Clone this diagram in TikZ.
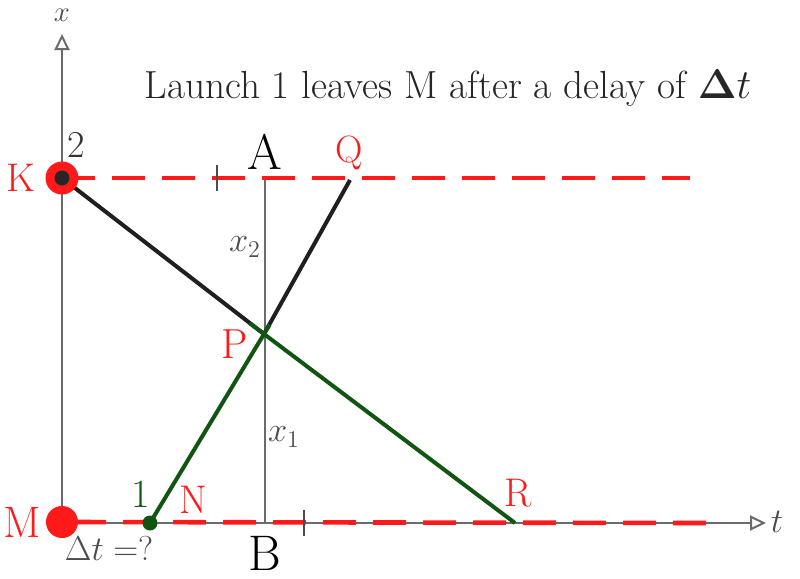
\documentclass[tikz,border=0pt]{standalone}
\usetikzlibrary{arrows.meta,calc}
\definecolor{dkgreen}{rgb}{0.07,0.33,0.07}
\definecolor{axgray}{rgb}{0.42,0.42,0.42}
\definecolor{ltred}{rgb}{1,0.1,0.1}
\begin{document}
\begin{tikzpicture}[x=0.5pt,y=-0.5pt,
  axis/.style={draw=axgray,line width=1pt},
  axarrow/.style={-{Triangle[open,length=8pt,width=7.5pt,line width=1pt]}},
  reddash/.style={draw=ltred,line width=2.3pt,dash pattern=on 16.5pt off 8.5pt},
  blk/.style={draw=black!88,line width=2pt},
  grn/.style={draw=dkgreen,line width=2pt},
  tickm/.style={draw=black!70,line width=1pt},
  fs/.style={font=\fontsize{#1}{#1}\selectfont},
  redlbl/.style={text=ltred,inner sep=0pt},
  graylbl/.style={text=black!70,inner sep=0pt},
  blklbl/.style={text=black,inner sep=0pt}]
\useasboundingbox (0,0) rectangle (800,579);
% coordinates
\coordinate (O) at (62,523);
\coordinate (Xtip) at (62,34);
\coordinate (Ttip) at (766,523);
\coordinate (K) at (62,178);
\coordinate (M) at (62,522);
\coordinate (A) at (265,178);
\coordinate (B) at (265,523);
\coordinate (P) at (264,334);
\coordinate (Q) at (350,180);
\coordinate (R) at (515,523);
\coordinate (N) at (150,523);
\coordinate (Kend) at (690,178);
\coordinate (Mend) at (706,523);
% axes
\draw[axis,axarrow] (O) -- (Xtip);
\draw[axis,axarrow] (O) -- (Ttip);
\draw[axis] (A) -- (B);
% dashed red lines
\draw[reddash] (K) -- (Kend);
\draw[reddash,dash phase=19.5pt] (M) -- (Mend);
% ticks
\coordinate (T1) at (217,178);
\coordinate (T2) at (304,523);
\draw[tickm] ($(T1)+(0,-13)$) -- ($(T1)+(0,13)$);
\draw[tickm] ($(T2)+(0,-13)$) -- ($(T2)+(0,13)$);
% world lines
\draw[blk] (K) -- (P);
\draw[blk] (P) -- (Q);
\draw[grn] ($(P)!-9pt!(R)$) -- (R);
\draw[grn] (N) -- ($(N)!1.05!(P)$);
% dots
\fill[ltred] (M) circle (16);
\fill[ltred] (K) circle (16.5);
\fill[black!85] (K) circle (7.5);
\fill[dkgreen] (N) circle (7.5);
% labels
\node[graylbl,fs=15] (xl) at (62,15) {$x$};
\node[graylbl,fs=19] (tl) at (777,522) {$t$};
\node[blklbl,fs=19.6,text=black!85] (title) at (448,88) {Launch 1 leaves M after a delay of $\mathbf{\Delta}t$};
\node[redlbl,fs=20] (Kl) at (21,178) {K};
\node[redlbl,fs=22] (Ml) at (22,522) {M};
\node[blklbl,fs=19,text=black!80] (two) at (76,145) {2};
\node[blklbl,fs=25] (Al) at (265,152) {A};
\node[blklbl,fs=25] (Bl) at (265,553) {B};
\node[redlbl,fs=19] (Ql) at (349,153) {Q};
\node[redlbl,fs=21] (Pl) at (235,344) {P};
\node[graylbl,fs=17] (x2) at (245,247) {$x_2$};
\node[graylbl,fs=17] (x1) at (284,437) {$x_1$};
\node[redlbl,fs=20] (Rl) at (518,493) {R};
\node[redlbl,fs=20] (Nl) at (193,500) {N};
\node[text=dkgreen,inner sep=0pt,fs=20] (one) at (141,494) {1};
\node[graylbl,fs=17] (dt) at (109,548) {$\Delta t =?$};
\end{tikzpicture}
\end{document}
